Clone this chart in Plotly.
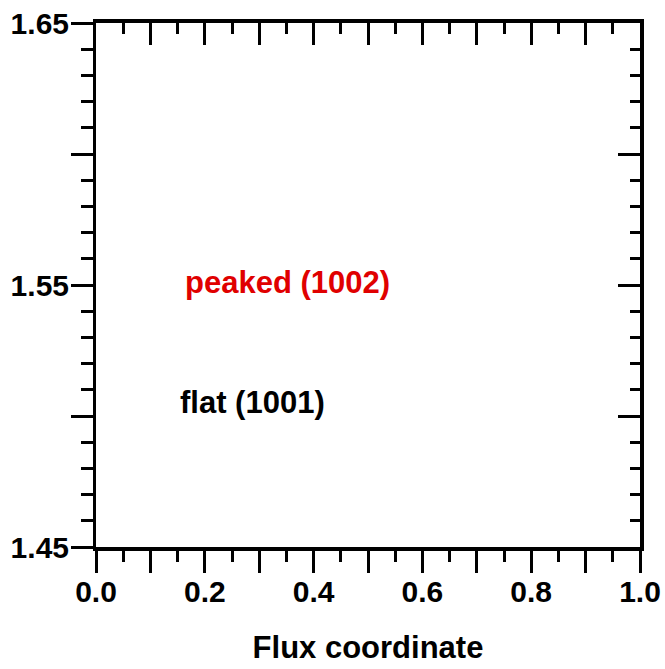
import plotly.graph_objects as go

# Axis tick values / labels
x_major = [0.0, 0.1, 0.2, 0.3, 0.4, 0.5, 0.6, 0.7, 0.8, 0.9, 1.0]
x_labels = ["0.0", "", "0.2", "", "0.4", "", "0.6", "", "0.8", "", "1.0"]
y_major = [1.45, 1.50, 1.55, 1.60, 1.65]
y_labels = ["1.45", "", "1.55", "", "1.65"]

# Text labels on the chart
label_texts = ["peaked (1002)", "flat (1001)"]
label_x = [0.159, 0.150]
label_y = [1.551, 1.505]
label_colors = ["#e00000", "#000000"]

x_range = [0.0, 1.0]
y_range = [1.45, 1.65]

FONT = "Liberation Sans, Arial, sans-serif"
FS = 31

fig = go.Figure()
fig.add_trace(go.Scatter(x=[], y=[], xaxis="x", yaxis="y", showlegend=False))
fig.add_trace(go.Scatter(x=[], y=[], xaxis="x2", yaxis="y2", showlegend=False))

common = dict(showgrid=False, zeroline=False, tickcolor="black", tickwidth=3,
              linecolor="black", showline=True, ticklen=22, automargin=False)

fig.update_layout(
    width=665, height=669,
    margin=dict(l=96, r=25, t=23, b=122),
    paper_bgcolor="white", plot_bgcolor="white",
    font=dict(family=FONT, size=FS, color="black", weight="bold"),
    xaxis=dict(range=x_range, tickmode="array", tickvals=x_major, ticktext=x_labels,
               ticks="outside", linewidth=4, ticklabelstandoff=-7,
               minor=dict(dtick=0.05, ticks="outside", ticklen=11, tickwidth=3, tickcolor="black"),
               title=dict(text="Flux coordinate", standoff=30,
                          font=dict(family=FONT, size=FS, weight="bold")),
               tickfont=dict(family=FONT, size=30, weight="bold"),
               **common),
    yaxis=dict(range=y_range, tickmode="array", tickvals=y_major, ticktext=y_labels,
               ticks="outside", linewidth=3, ticklabelstandoff=-4,
               minor=dict(dtick=0.01, ticks="outside", ticklen=12, tickwidth=3, tickcolor="black"),
               tickfont=dict(family=FONT, size=30, weight="bold"),
               **common),
    xaxis2=dict(range=x_range, overlaying="x", side="top", anchor="y2",
                tickmode="array", tickvals=x_major, ticktext=[""] * len(x_major),
                ticks="inside", linewidth=4,
                minor=dict(dtick=0.05, ticks="inside", ticklen=11, tickwidth=3, tickcolor="black"),
                **common),
    yaxis2=dict(range=y_range, overlaying="y", side="right", anchor="x2",
                tickmode="array", tickvals=y_major, ticktext=[""] * len(y_major),
                ticks="inside", linewidth=4,
                minor=dict(dtick=0.01, ticks="inside", ticklen=10, tickwidth=3, tickcolor="black"),
                **common),
)

for t, x, y, c in zip(label_texts, label_x, label_y, label_colors):
    fig.add_annotation(x=x, y=y, xref="x", yref="y", text=t, showarrow=False,
                       xanchor="left", yanchor="middle",
                       font=dict(family=FONT, size=FS, color=c, weight="bold"))

fig.write_html("out.html")
